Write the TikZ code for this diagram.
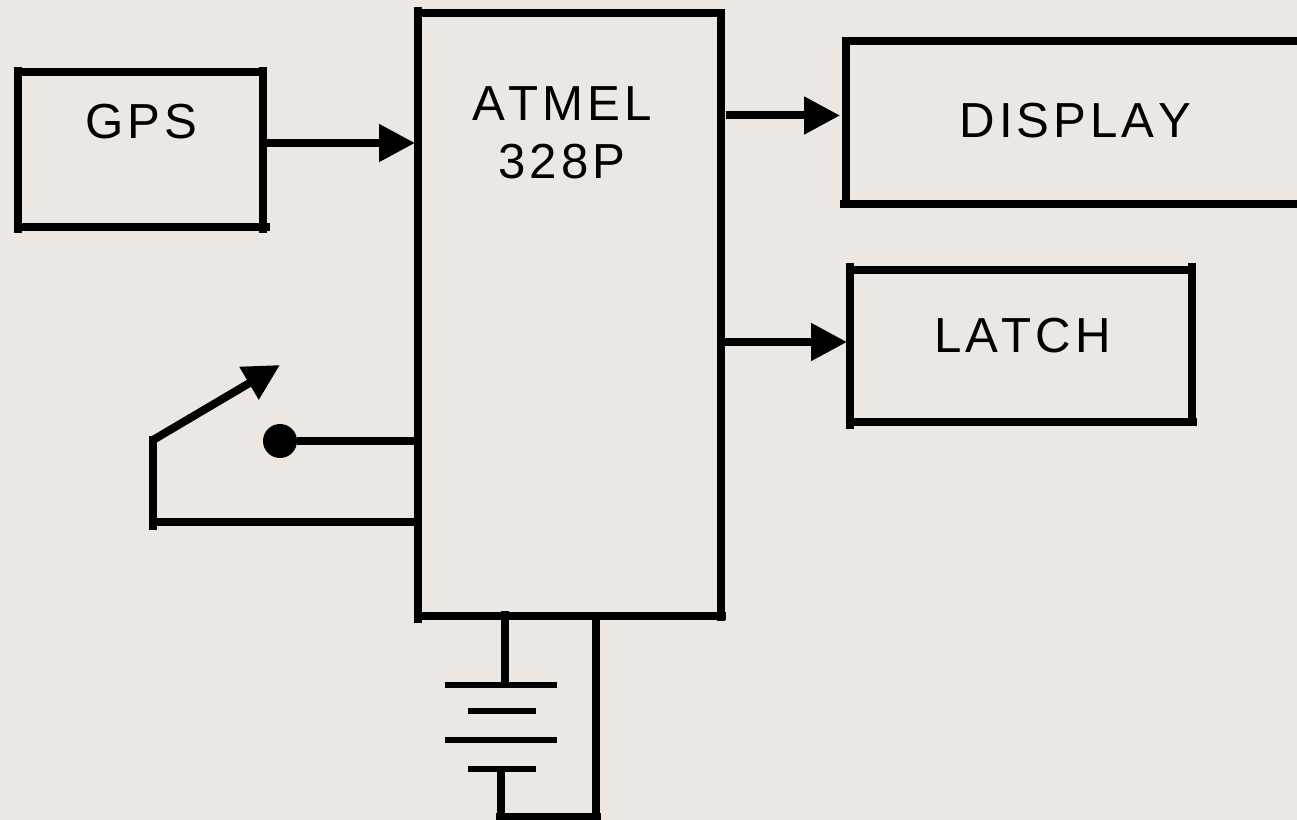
\documentclass[tikz,border=0pt]{standalone}
\usepackage{fontspec}
\setmainfont[LetterSpace=8, Kerning=Off]{Liberation Sans}
\definecolor{panelBg}{HTML}{ECE7E3}
\usetikzlibrary{arrows.meta, positioning, calc}

\begin{document}
\begin{tikzpicture}[
  x=0.02cm, y=-0.02cm,
  blk/.style={draw, line width=0.16cm, minimum width=#1, inner sep=0pt, outer sep=0pt},
  lbl/.style={inner sep=0pt, align=center, font=\fontsize{28}{33}\selectfont},
  plate/.style={fill=black, inner sep=0pt, outer sep=0pt, minimum width=#1, minimum height=0.12cm},
  wire/.style={line width=0.16cm},
  sig/.style={wire, shorten >=0.06cm, -{Triangle[length=0.72cm, width=0.72cm]}}
]
  \fill[panelBg] (0,0) rectangle (1297,820);
  \clip (0,0) rectangle (1297,820);
  \useasboundingbox (0,0) rectangle (1297,820);

  \node[blk=4.9cm, minimum height=3.1cm] (gps) at (140.5,149.5) {};
  \node[blk=6.06cm, minimum height=12.06cm] (atmel) at (569.5,314.5) {};
  \node[blk=9.39cm, minimum height=3.26cm] (display) at (1080.25,122.5) {};
  \node[blk=6.84cm, minimum height=3.05cm] (latch) at (1021,346.25) {};

  % the sides run on a little past the corners
  \foreach \b/\lt/\lb/\rt/\rb in {gps/5/6/5/6, atmel/6/7/0/5, display/3/0/0/0, latch/7/7/7/0}{
    \draw[wire] ($(\b.north west)+(0,-\lt)$) -- ($(\b.south west)+(0,\lb)$);
    \draw[wire] ($(\b.north east)+(0,-\rt)$) -- ($(\b.south east)+(0,\rb)$);
  }
  \draw[wire] (gps.south east) -- ++(7,0);
  \draw[wire] (atmel.south east) -- ++(5,0);
  \draw[wire] (display.south west) -- ++(-5.5,0);
  \draw[wire] (latch.south east) -- ++(5,0);

  \node[lbl] (gpstxt) at (141,122) {GPS};
  \node[lbl] (atmeltxt) at (562,133) {ATMEL\\328P};
  \node[lbl] (displaytxt) at (1075.5,121) {DISPLAY};
  \node[lbl] (latchtxt) at (1022.5,336) {LATCH};

  % signal arrows
  \draw[sig] (gps.east |- 0,143) -- (atmel.west |- 0,143);
  \draw[sig, shorten >=0.11cm] (726,115.5) coordinate (dout) -- (dout -| display.west);
  \draw[sig] (atmel.east |- 0,342) -- (latch.west |- 0,342);

  % switch
  \node[circle, fill=black, minimum size=0.68cm, inner sep=0pt] (contact) at (280,441) {};
  \coordinate (hinge) at (153,440);
  \coordinate (swtip) at (280,365);
  \coordinate (swtop) at (153,436);
  \coordinate (swend) at (153,530);
  \coordinate (swfoot) at (153,522);
  \draw[wire] (contact) -- (atmel.west |- contact);
  \draw[wire, -{Triangle[length=0.72cm, width=0.72cm]}] (hinge) -- (swtip);
  \draw[wire] (swtop) -- (swend);
  \draw[wire] (swfoot) -- (atmel.west |- swfoot);

  % battery
  \foreach \n/\w/\xx/\yy in {a/2.24cm/501/685, b/1.36cm/502/711, c/2.24cm/501/740, d/1.36cm/502/769}
    \node[plate=\w] (bat\n) at (\xx,\yy) {};
  \coordinate (battop) at (505,611);
  \coordinate (loopl) at (501,817);
  \coordinate (loopr) at (596,616);
  \draw[wire] (battop) -- (battop |- bata.north);
  \draw[wire] (loopl |- batd.south) -- (loopl);
  \draw[wire] (loopr) -- (loopr |- loopl);
  \draw[wire] (496,817) coordinate (loopa) -- (601,817) coordinate (loopb);
\end{tikzpicture}
\end{document}
